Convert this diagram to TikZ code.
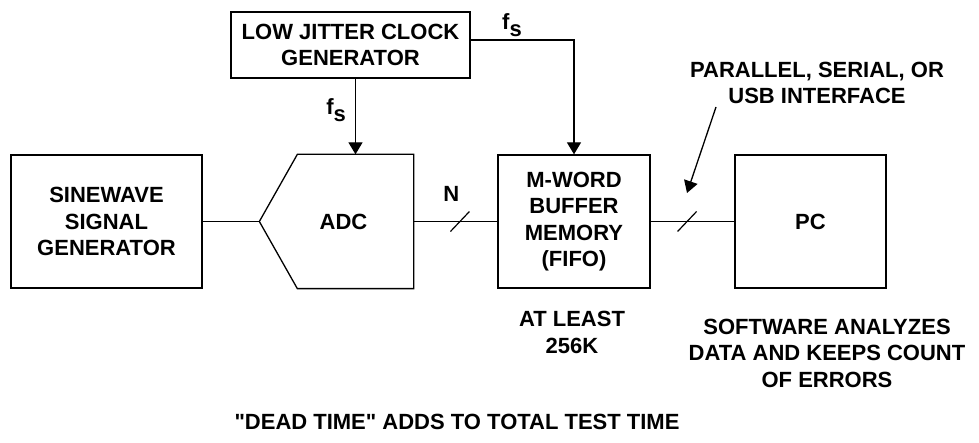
\documentclass[tikz,border=0pt]{standalone}
\usepackage{fontspec}
\setmainfont{Liberation Sans}[Ligatures=TeXOff]
\usetikzlibrary{arrows.meta,positioning,calc}
\newcommand{\fsub}{f\raisebox{-7pt}{s}}

\begin{document}
\begin{tikzpicture}[x=1pt,y=1pt,
 every node/.style={font=\fontsize{22}{26.5}\selectfont\bfseries,align=center,inner sep=2pt},
 box/.style={draw=black,line width=1.3pt,inner sep=0pt},
 wire/.style={line width=1.3pt,draw=black},
 flow/.style={wire,-{Triangle[length=12pt,width=14pt]}},
 slash/.style={line width=1.2pt,draw=black}]

\useasboundingbox (0,0) rectangle (979,-443);
\node[box,minimum width=239,minimum height=66] (clock) at (350.5,-45) {LOW JITTER CLOCK\\GENERATOR};
\node[box,minimum width=191,minimum height=133] (sine) at (106.5,-221.5) {SINEWAVE\\SIGNAL\\GENERATOR};
\node[box,draw=none,minimum width=115,minimum height=133] (adc) at (355.5,-221.5) {\hspace*{-24pt}ADC};
\coordinate (adctip) at ($(adc.west)+(-38,0)$);
\draw[wire,line join=miter] (adc.north west)--(adc.north east)--(adc.south east)--(adc.south west)--(adctip)--cycle;
\node[box,minimum width=152,minimum height=133] (fifo) at (574,-221.5) {M-WORD\\BUFFER\\MEMORY\\(FIFO)};
\node[box,minimum width=151,minimum height=133] (pc) at (810.5,-221.5) {PC};

\draw[wire] (sine.east)--(adctip);
\draw[flow] (clock.south -| adc.north)--node[pos=.42,left=7pt] {\fsub} (adc.north);
\draw[flow] ([yshift=5]clock.east)-|node[pos=.2,above=1pt] {\fsub} (fifo.north);

\draw[wire] (adc.east)--coordinate[pos=.553] (nbus) (fifo.west);
\draw[slash] ($(nbus)+(-9.5,-10)$)--($(nbus)+(9.5,10)$);
\node[above=18pt of nbus,xshift=-8.5pt] (nlab) {N};

\draw[wire] (fifo.east)--coordinate[pos=.435] (ifbus) (pc.west);
\draw[slash] ($(ifbus)+(-9.5,-10)$)--($(ifbus)+(9.5,10)$);
\node (iface) at (817,-83) {PARALLEL, SERIAL, OR\\USB INTERFACE};
\coordinate (ifstart) at (716,-107);
\coordinate (iftip) at (687,-193);
\draw[flow] (ifstart)--(iftip);

\node (atleast) at (572,-332.5) {AT LEAST\\256K};
\node (software) at (827,-353) {SOFTWARE ANALYZES\\DATA AND KEEPS COUNT\\OF ERRORS};
\node (deadtime) at (457,-422) {"DEAD TIME" ADDS TO TOTAL TEST TIME};
\end{tikzpicture}
\end{document}
